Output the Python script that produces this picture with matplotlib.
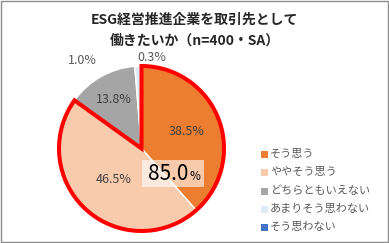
import matplotlib
matplotlib.use("Agg")
import matplotlib.pyplot as plt
from matplotlib.patches import Wedge, Rectangle
import numpy as np

plt.rcParams['font.family'] = ['Noto Sans CJK JP', 'DejaVu Sans']

# データ
labels = ["そう思う", "ややそう思う", "どちらともいえない", "あまりそう思わない", "そう思わない"]
values = [38.5, 46.5, 13.8, 1.0, 0.3]
colors = ["#ED7D31", "#F8CBAD", "#A5A5A5", "#DEEBF7", "#4472C4"]
title = "ESG経営推進企業を取引先として\n働きたいか（n=400・SA）"
total_label = "85.0"

W, H = 389, 243
fig = plt.figure(figsize=(W / 100, H / 100), dpi=100)

# 外枠
fig.patches.append(Rectangle((0.002, 0.003), 0.995, 0.993, transform=fig.transFigure,
                             fill=False, edgecolor="#8c8c8c", lw=1))

fig.text(0.5, 1 - 30 / H, title, ha="center", va="center", fontsize=10,
         fontweight="bold", color="#262626", linespacing=1.6)

cx, cy, r = 141.5, 148.5, 82.5
ax = fig.add_axes([(cx - r) / W, (H - cy - r) / H, 2 * r / W, 2 * r / H])
wedges, _ = ax.pie(values, colors=colors, startangle=90, counterclock=False,
                   radius=1, wedgeprops=dict(edgecolor="white", linewidth=1))
ax.set_xlim(-1, 1)
ax.set_ylim(-1, 1)
ax.set_aspect("equal")
ax.axis("off")

# 赤枠（そう思う＋ややそう思う）
frac = (values[0] + values[1]) / sum(values)
t1 = 90 - frac * 360
ax.add_patch(Wedge((0, 0), 1, t1, 90, fill=False, edgecolor="#FF0000", lw=2.9,
                   joinstyle="miter", zorder=5, clip_on=False))

# ラベル
for i, w in enumerate(wedges):
    ang = np.deg2rad((w.theta1 + w.theta2) / 2)
    d = [0.58, 0.5, 0.68][i] if i < 3 else 0
    x, y = d * np.cos(ang), d * np.sin(ang)
    if i == 3:
        x, y = -0.72, 1.07
    if i == 4:
        x, y = 0.12, 1.1
    col = "#404040" if i < 3 else "#595959"
    ax.text(x, y, f"{values[i]:.1f}%", ha="center", va="center", fontsize=9,
            color=col, zorder=6)

# 85.0%
box_l, box_r = 0.0, (204 - cx) / r
box_t, box_b = (cy - 160) / r, (cy - 187) / r
ax.add_patch(Rectangle((box_l, box_b), box_r - box_l, box_t - box_b,
                       facecolor="white", alpha=0.6, edgecolor="none", zorder=6))
ax.text((188 - cx) / r, (cy - 174) / r, total_label, ha="right", va="center",
        fontsize=15, color="black", zorder=7)
ax.text((189 - cx) / r, (cy - 176) / r, "%", ha="left", va="center",
        fontsize=8.5, color="black", zorder=8)

# 凡例
ly = [154, 172, 191, 209, 227]
for i, lab in enumerate(labels):
    fig.patches.append(Rectangle((261 / W, (H - ly[i] - 3.5) / H), 7 / W, 7 / H,
                                 transform=fig.transFigure, facecolor=colors[i],
                                 edgecolor="none"))
    fig.text(270 / W, (H - ly[i]) / H, lab, ha="left", va="center", fontsize=8,
             color="#595959")

fig.savefig("out.png", dpi=100)
